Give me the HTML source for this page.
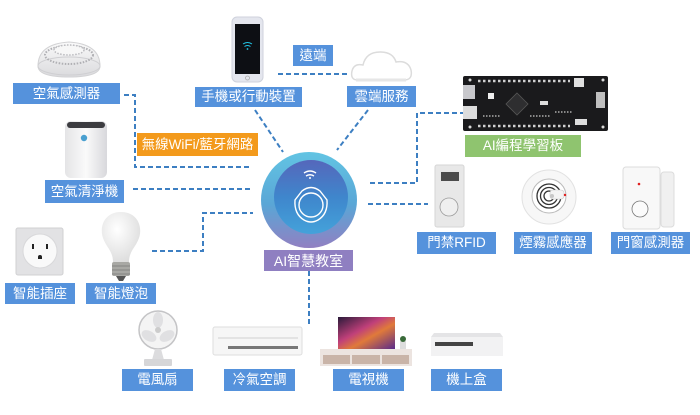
<!DOCTYPE html>
<html><head><meta charset="utf-8">
<style>
html,body{margin:0;padding:0;background:#fff;}
body{width:700px;height:415px;overflow:hidden;position:relative;font-family:"Liberation Sans","Noto Sans CJK TC",sans-serif;}
svg{position:absolute;left:0;top:0;}
.l{position:absolute;color:#fff;font-size:13.5px;line-height:1;display:flex;align-items:center;justify-content:center;white-space:nowrap;background:#5592dc;}
.o{background:#f39a1c;}
.g{background:#8fc46f;}
.p{background:#8f7fc1;}
</style></head><body>
<svg width="700" height="415" viewBox="0 0 700 415" xmlns="http://www.w3.org/2000/svg">
<defs>
<linearGradient id="outer" x1="0" y1="0" x2="0" y2="1"><stop offset="0" stop-color="#62c4e3"/><stop offset="0.55" stop-color="#5aa6d6"/><stop offset="1" stop-color="#9180c2"/></linearGradient>
<linearGradient id="inner" x1="0" y1="0" x2="0" y2="1"><stop offset="0" stop-color="#5567bb"/><stop offset="0.5" stop-color="#3f86cc"/><stop offset="1" stop-color="#44a2da"/></linearGradient>
<linearGradient id="gray" x1="0" y1="0" x2="1" y2="0"><stop offset="0" stop-color="#e4e4e6"/><stop offset="0.5" stop-color="#fafafa"/><stop offset="1" stop-color="#d8d8dc"/></linearGradient>
<linearGradient id="tv" x1="0" y1="0" x2="1" y2="1"><stop offset="0" stop-color="#2a1a3a"/><stop offset="0.4" stop-color="#c0407a"/><stop offset="0.6" stop-color="#e07a3a"/><stop offset="1" stop-color="#5a2a8a"/></linearGradient>
<radialGradient id="bulb" cx="0.4" cy="0.35" r="0.7"><stop offset="0" stop-color="#ffffff"/><stop offset="1" stop-color="#dcdcdc"/></radialGradient>
<linearGradient id="dome" x1="0" y1="0" x2="0" y2="1"><stop offset="0" stop-color="#fafafa"/><stop offset="1" stop-color="#dadadd"/></linearGradient>
</defs>
<g fill="none" stroke="#3d7fc2" stroke-width="2" stroke-dasharray="5,3">
<path d="M278,74 H348"/>
<path d="M124,95 H135 V167 H252"/>
<path d="M133,189 H252"/>
<path d="M152,251 H203 V213 H253"/>
<path d="M255,110 L283,152"/>
<path d="M368,110 L337,150"/>
<path d="M465,113 H417 V183 H368"/>
<path d="M368,204 H428"/>
<path d="M309,271 V325"/>
</g>
<!-- center circle -->
<circle cx="309" cy="200" r="48" fill="url(#outer)"/>
<circle cx="311" cy="197" r="37" fill="url(#inner)"/>
<g fill="none" stroke="#fff" stroke-width="1.4">
<path d="M304,173 q6,-4 12,0"/><path d="M306,176 q4,-2.5 8,0"/>
<path d="M302,191 Q311,184 320,191 L327,200 Q328,214 318,220 Q311,224 304,220 Q294,214 295,200 Z"/>
<circle cx="311" cy="205" r="12"/>
</g>
<circle cx="310" cy="178" r="1" fill="#fff"/>
<!-- air sensor -->
<path d="M38,66 Q38,44 69,42 Q100,44 100,66 Q100,77 69,77 Q38,77 38,66 Z" fill="url(#dome)" stroke="#d2d2d4"/>
<ellipse cx="69" cy="66" rx="31" ry="9" fill="none" stroke="#cfcfd2" stroke-width="1"/>
<ellipse cx="69" cy="55" rx="24" ry="9" fill="none" stroke="#b0b0b4" stroke-width="2" stroke-dasharray="1.5,1.5"/>
<ellipse cx="69" cy="50" rx="15" ry="5" fill="#f7f7f7" stroke="#bcbcc0" stroke-width="1.5" stroke-dasharray="1.5,1.5"/>
<!-- phone -->
<rect x="232" y="17" width="31" height="65" rx="5" fill="#e4e6ee" stroke="#cfd2dc"/>
<rect x="235" y="24" width="25" height="50" fill="#0d0f14"/>
<g fill="none" stroke="#22c7e8" stroke-width="1"><path d="M243,44 q4.5,-3 9,0"/><path d="M244.5,46.5 q3,-2 6,0"/></g>
<circle cx="247.5" cy="49" r="0.9" fill="#22c7e8"/>
<circle cx="247.5" cy="78" r="2" fill="none" stroke="#aaa" stroke-width="0.8"/>
<!-- cloud -->
<path d="M358,80 Q350,80 352,71 Q354,63 363,65 Q366,52 380,52 Q393,52 396,62 Q408,60 411,70 Q413,80 404,80 Z" fill="#fff" stroke="#dcdcdc" stroke-width="1.5"/>
<path d="M356,80 H406" stroke="#e6e6e6" stroke-width="3"/>
<!-- board -->
<rect x="463" y="76" width="145" height="55" rx="2" fill="#1a1a1c"/>
<g fill="#d8d8d8">
<circle cx="470" cy="80" r="1.5"/><circle cx="603" cy="80" r="1.5"/><circle cx="470" cy="127" r="1.5"/><circle cx="603" cy="127" r="1.5"/>
</g>
<path d="M478,81 H570" stroke="#cfcfcf" stroke-width="2.5" stroke-dasharray="2.5,2.5"/>
<path d="M478,126 H570" stroke="#cfcfcf" stroke-width="2.5" stroke-dasharray="2.5,2.5"/>
<rect x="463" y="85" width="12" height="14" fill="#c8c8cc"/>
<rect x="463" y="106" width="14" height="13" fill="#dcdcdc"/>
<rect x="574" y="78" width="10" height="9" fill="#e0e0e0"/>
<rect x="596" y="92" width="9" height="16" fill="#bfbfbf"/>
<rect x="575" y="119" width="12" height="6" fill="#ddd"/>
<path d="M517,93 L528,104 L517,115 L506,104 Z" fill="#2e2e30" stroke="#555" stroke-width="0.8"/>
<rect x="540" y="101" width="8" height="4" fill="#ddd"/>
<rect x="488" y="93" width="6" height="6" fill="#eee"/>
<path d="M483,116 H500 M530,116 H550 M555,112 H572" stroke="#888" stroke-width="2" stroke-dasharray="1.5,1.5"/>
<!-- air purifier -->
<rect x="65" y="121" width="42" height="57" rx="6" fill="url(#gray)"/>
<rect x="67" y="122" width="38" height="6" rx="3" fill="#3c3c40"/>
<circle cx="84" cy="138" r="3.2" fill="#4aa0d0"/>
<!-- outlet -->
<rect x="16" y="228" width="47" height="47" rx="2" fill="#e2e2e4" stroke="#d0d0d2"/>
<circle cx="40" cy="251" r="17" fill="#f9f9f9" stroke="#d8d8da"/>
<rect x="32" y="244" width="2" height="5" fill="#222"/>
<rect x="46" y="244" width="2" height="5" fill="#222"/>
<path d="M38,257 a2,2 0 0 1 4,0 v2 h-4 Z" fill="#222"/>
<!-- bulb -->
<path d="M121,212 C105,212 99,226 103,238 C106,247 113,251 113,262 H129 C129,251 136,247 139,238 C143,226 137,212 121,212 Z" fill="url(#bulb)"/>
<rect x="112" y="262" width="18" height="14" rx="2" fill="#a8a8a4"/>
<path d="M112,266 H130 M112,270 H130 M112,274 H130" stroke="#777" stroke-width="0.8"/>
<path d="M116,276 H126 L123,281 H119 Z" fill="#555"/>
<!-- fan -->
<circle cx="158" cy="330" r="19" fill="#f4f4f4" stroke="#c4c4c6" stroke-width="1.5"/>
<g fill="#e0e0e2"><ellipse cx="158" cy="320" rx="5" ry="8"/><ellipse cx="149" cy="336" rx="8" ry="5" transform="rotate(30 149 336)"/><ellipse cx="167" cy="336" rx="8" ry="5" transform="rotate(-30 167 336)"/></g>
<circle cx="158" cy="330" r="3" fill="#ccc"/>
<path d="M155,349 L161,349 L164,360 L152,360 Z" fill="#dcdcde"/>
<rect x="144" y="359" width="28" height="7" rx="1" fill="#d6d6d8"/>
<!-- AC -->
<rect x="213" y="327" width="89" height="28" rx="2" fill="#f6f6f6" stroke="#dedede"/>
<path d="M218,338 H298" stroke="#d0d0d0" stroke-width="1"/>
<rect x="228" y="346" width="70" height="3" fill="#777"/>
<!-- TV -->
<rect x="338" y="317" width="57" height="32" fill="url(#tv)"/>
<rect x="320" y="349" width="92" height="17" fill="#ece4e0"/>
<rect x="323" y="355" width="27" height="9" fill="#c9b4a8"/><rect x="352" y="355" width="28" height="9" fill="#c9b4a8"/><rect x="382" y="355" width="27" height="9" fill="#c9b4a8"/>
<rect x="400" y="341" width="6" height="8" fill="#ddd"/><circle cx="403" cy="339" r="3" fill="#3a6a3a"/>
<!-- set top box -->
<path d="M434,333 H500 L503,337 V356 H431 V337 Z" fill="#e4e4e6"/>
<rect x="431" y="337" width="72" height="19" fill="#f2f2f3"/>
<rect x="435" y="342" width="38" height="4" fill="#444"/>
<!-- RFID -->
<rect x="435" y="165" width="29" height="62" rx="2" fill="#e8e8e8" stroke="#d6d6d6"/>
<rect x="441" y="172" width="18" height="9" fill="#4c4c4c"/>
<circle cx="449" cy="207" r="9" fill="#efefef" stroke="#999" stroke-width="0.8"/>
<!-- smoke -->
<circle cx="549" cy="197" r="27" fill="#f7f7f7" stroke="#e2e2e2"/>
<circle cx="549" cy="196" r="17" fill="#fff" stroke="#bbb" stroke-width="1"/>
<g fill="none" stroke="#333" stroke-width="1.3"><circle cx="549" cy="196" r="12"/><circle cx="549" cy="196" r="8.5"/><circle cx="549" cy="196" r="5"/></g>
<rect x="550" y="190" width="14" height="9" rx="3" fill="#f4f4f4" stroke="#ccc" stroke-width="0.6"/>
<circle cx="552" cy="196" r="2" fill="#c8c8c8"/>
<circle cx="565" cy="195" r="1.2" fill="#e02020"/>
<!-- door sensor -->
<rect x="623" y="167" width="37" height="62" rx="3" fill="#f8f8f8" stroke="#dcdcdc"/>
<rect x="661" y="172" width="13" height="55" rx="3" fill="#f0f0f0" stroke="#dcdcdc"/>
<circle cx="639" cy="184" r="1.3" fill="#e02020"/>
<circle cx="640" cy="209" r="8" fill="#fbfbfb" stroke="#777" stroke-width="0.8"/>
</svg>

<div class="l" style="left:13px;top:83px;width:107px;height:21px;">空氣感測器</div>
<div class="l" style="left:195px;top:87px;width:107px;height:20px;">手機或行動裝置</div>
<div class="l" style="left:293px;top:45px;width:40px;height:21px;">遠端</div>
<div class="l" style="left:347px;top:86px;width:69px;height:21px;">雲端服務</div>
<div class="l g" style="left:465px;top:135px;width:116px;height:22px;">AI編程學習板</div>
<div class="l o" style="left:137px;top:133px;width:121px;height:23px;">無線WiFi/藍牙網路</div>
<div class="l" style="left:45px;top:180px;width:79px;height:23px;">空氣清淨機</div>
<div class="l p" style="left:264px;top:250px;width:89px;height:21px;font-size:14px;">AI智慧教室</div>
<div class="l" style="left:417px;top:232px;width:79px;height:22px;">門禁RFID</div>
<div class="l" style="left:514px;top:232px;width:78px;height:22px;">煙霧感應器</div>
<div class="l" style="left:611px;top:232px;width:79px;height:22px;">門窗感測器</div>
<div class="l" style="left:5px;top:283px;width:70px;height:21px;">智能插座</div>
<div class="l" style="left:86px;top:283px;width:70px;height:21px;">智能燈泡</div>
<div class="l" style="left:122px;top:369px;width:71px;height:22px;">電風扇</div>
<div class="l" style="left:224px;top:369px;width:71px;height:22px;">冷氣空調</div>
<div class="l" style="left:333px;top:369px;width:71px;height:22px;">電視機</div>
<div class="l" style="left:431px;top:369px;width:71px;height:22px;">機上盒</div>
</body></html>
